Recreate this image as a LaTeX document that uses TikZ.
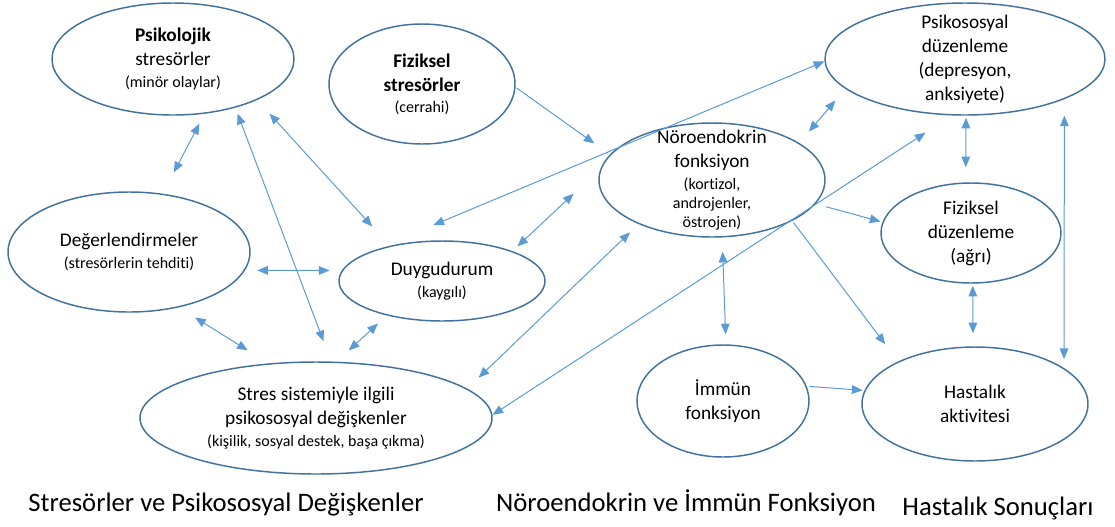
\documentclass[tikz,border=0pt]{standalone}
\usepackage{fontspec}
\setmainfont{Carlito}[Ligatures=NoCommon]
\usetikzlibrary{shapes.geometric, arrows.meta}

\definecolor{ellblue}{RGB}{65,113,156}
\definecolor{linkblue}{RGB}{91,155,213}

\newcommand{\smalltxt}{\fontsize{12}{14}\selectfont}

\tikzset{
    bubble/.style={ellipse, draw=ellblue, line width=1.1pt, inner sep=0pt},
    ellsize/.style 2 args={minimum width=#1*1.5pt, minimum height=#2*1.5pt},
    txt/.style={align=center, font=\fontsize{14.5}{18}\selectfont},
    title/.style={font=\fontsize{20}{24}\selectfont},
    link/.style={draw=linkblue, line width=0.75pt, <->},
    flow/.style={draw=linkblue, line width=0.75pt, ->},
    gaps/.style 2 args={shorten <=#1, shorten >=#2}
}

\begin{document}
\begin{tikzpicture}[x=0.75pt, y=-0.75pt, >={Triangle[length=8pt,width=6.5pt]}]
        \useasboundingbox (0,0) rectangle (1115,526);

        % Stresörler
        \node[bubble, ellsize={121}{56}] (psy) at (173,59) {};
        \node[txt] (psytext) at (psy) {\textbf{Psikolojik}\\stresörler\\[-1.5pt]{\smalltxt (minör olaylar)}};
        \node[bubble, ellsize={93}{60}] (fiz) at (422,84) {};
        \node[txt] (fiztext) at (fiz) {\textbf{Fiziksel}\\\textbf{stresörler}\\[-2pt]{\smalltxt (cerrahi)}};
        \node[bubble, ellsize={121}{60}] (deg) at (129,252) {};
        \node[txt] (degtext) at (deg) {Değerlendirmeler\\[-1.5pt]{\smalltxt (stresörlerin tehditi)}};
        \node[bubble, ellsize={103}{40}] (duy) at (442,281) {};
        \node[txt] (duytext) at (duy) {Duygudurum\\[-2pt]{\smalltxt (kaygılı)}};
        \node[bubble, ellsize={176}{56}] (stres) at (316,418) {};
        \node[txt] (strestext) at (stres) {Stres sistemiyle ilgili\\psikososyal değişkenler\\[-2pt]{\smalltxt (kişilik, sosyal destek, başa çıkma)}};

        % Nöroendokrin ve immün
        \node[bubble, ellsize={113}{57}] (noro) at (712,180) {};
        \node[txt] (norotext) at (noro) {Nöroendokrin\\fonksiyon\\[-1.5pt]{\smalltxt (kortizol,}\\[-4pt]{\smalltxt androjenler,}\\[-4pt]{\smalltxt östrojen)}};
        \node[bubble, ellsize={86}{56}] (imm) at (723,401) {};
        \node[txt] (immtext) at (imm) {İmmün\\fonksiyon};

        % Hastalık sonuçları
        \node[bubble, ellsize={140}{56}] (psd) at (965,59) {};
        \node[txt] (psdtext) at (psd) {Psikososyal\\düzenleme\\(depresyon,\\anksiyete)};
        \node[bubble, ellsize={90}{50}] (fizd) at (971,233) {};
        \node[txt] (fizdtext) at (fizd) {Fiziksel\\düzenleme\\(ağrı)};
        \node[bubble, ellsize={113}{57}] (hast) at (975,404) {};
        \node[txt] (hasttext) at (hast) {Hastalık\\aktivitesi};

        % Bağlantılar
        \draw[link, gaps={8.4pt}{18pt}] (psy.-60) -- (deg.60);
        \draw[link, gaps={4.7pt}{16.2pt}] (psy.-38) -- (stres.75);
        \draw[link, gaps={13.8pt}{19.6pt}] (psy.-26) -- (duy.146);
        \draw[flow, gaps={1pt}{14.3pt}] (fiz.-2) -- (noro.166);
        \draw[link, gaps={54.8pt}{0pt}] (duy.160) -- (psd.181);
        \draw[link, gaps={5.1pt}{27.8pt}] (duy.23) -- (noro.174);
        \draw[link, gaps={9.2pt}{9.2pt}] (deg.-9) -- (duy.174);
        \draw[link, gaps={14.3pt}{18.4pt}] (deg.-48) -- (stres.131);
        \draw[link, gaps={9pt}{12.5pt}] (duy.-148) -- (stres.70);
        \draw[link, gaps={11.9pt}{8.9pt}] (stres.11) -- (noro.-149);
        \draw[link, gaps={0pt}{23.7pt}] (stres.1) -- (psd.-103);
        \draw[link, gaps={11.1pt}{11.5pt}] (noro.23) -- (psd.-166);
        \draw[flow, gaps={8.3pt}{1.5pt}] (noro.-13) -- (fizd.173);
        \draw[flow, gaps={1.5pt}{16.1pt}] (noro.-27) -- (hast.151);
        \draw[link, gaps={10.7pt}{7.5pt}] (noro.-80) -- (imm.87);
        \draw[flow, gaps={2.1pt}{1.4pt}] (imm.10) -- (hast.173);
        \draw[link, gaps={1.5pt}{11.3pt}] (psd.-89) -- (fizd.96);
        \draw[link, gaps={1.5pt}{9.8pt}] (fizd.-88) -- (hast.92);
        \draw[link, gaps={12.3pt}{6.7pt}] (psd.-22) -- (hast.22);

        % Başlıklar
        \node[title] (lblstres) at (226,505) {Stresörler ve Psikososyal Değişkenler};
        \node[title] (lblnoro) at (686,503) {Nöroendokrin ve İmmün Fonksiyon};
        \node[title] (lblhast) at (998,508) {Hastalık Sonuçları};
    \end{tikzpicture}
\end{document}
